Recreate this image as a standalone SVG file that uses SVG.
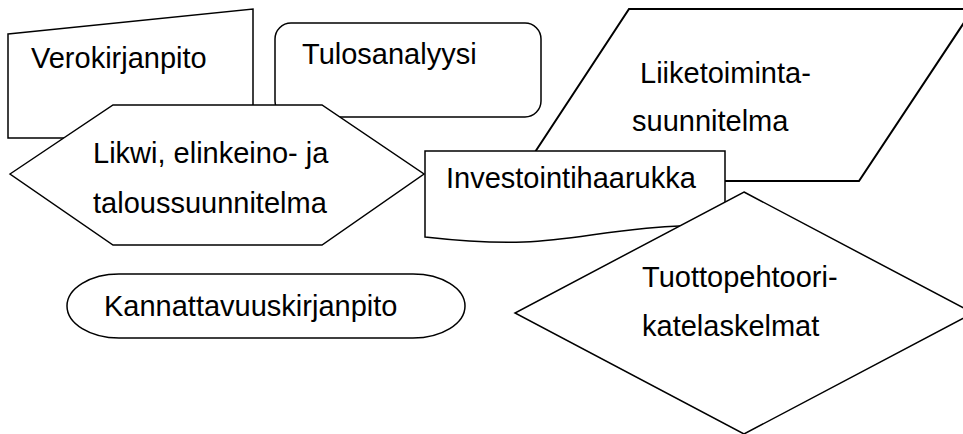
<svg xmlns="http://www.w3.org/2000/svg" width="963" height="434" viewBox="0 0 963 434">
<style>
.s{fill:#fff;stroke:#000;stroke-width:1.5;stroke-linejoin:miter}
.t{font-family:"Liberation Sans",Arial,sans-serif;font-size:29px;fill:#000}
</style>
<rect width="963" height="434" fill="#fff"/>
<g id="verokirjanpito">
<path class="s" d="M8,34 L253,9 L253,138 L8,138 Z"/>
<text class="t" x="31" y="68">Verokirjanpito</text>
</g>
<g id="tulosanalyysi">
<rect class="s" x="275" y="23" width="266" height="94" rx="16" ry="16"/>
<text class="t" x="302" y="64">Tulosanalyysi</text>
</g>
<g id="likwi">
<path class="s" d="M10,174 L113,105 L322,105 L424,174 L322,245 L113,245 Z"/>
<text class="t" x="93" y="163">Likwi, elinkeino- ja</text>
<text class="t" x="93" y="213">taloussuunnitelma</text>
</g>
<g id="liiketoiminta">
<path class="s" style="stroke-width:2" d="M516,181 L629,9 L973,9 L859,181 Z"/>
<text class="t" x="640" y="83">Liiketoiminta-</text>
<text class="t" x="632" y="131">suunnitelma</text>
</g>
<g id="investointihaarukka">
<path class="s" d="M425,151 L725,151 L725,225 C575,225 575,254 425,237 Z"/>
<text class="t" x="446" y="188">Investointihaarukka</text>
</g>
<g id="tuottopehtoori">
<path class="s" d="M744,192 L973,313 L744,434 L515,313 Z"/>
<text class="t" x="642" y="287">Tuottopehtoori-</text>
<text class="t" x="642" y="336">katelaskelmat</text>
</g>
<g id="kannattavuuskirjanpito">
<rect class="s" x="67" y="274" width="398" height="64" rx="52" ry="32"/>
<text class="t" x="104" y="316">Kannattavuuskirjanpito</text>
</g>
<g id="connectors"/>
</svg>
